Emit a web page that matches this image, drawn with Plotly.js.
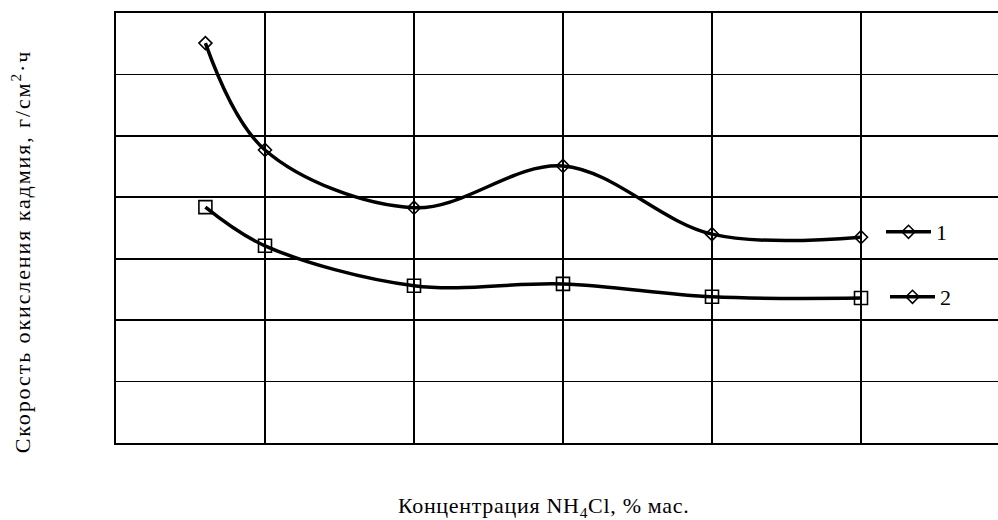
<!DOCTYPE html>
<html>
<head>
<meta charset="utf-8">
<script src="https://cdn.plot.ly/plotly-3.0.1.min.js"></script>
<style>
html, body { margin: 0; padding: 0; overflow: hidden; background: #fff; }
#chart { width: 1030px; height: 520px; }
</style>
</head>
<body>
<div id="chart"></div>
<script>
// Data (grid units)
var concentration = [0.6, 1, 2, 3, 4, 5];
var series1 = [6.51, 4.77, 3.83, 4.51, 3.40, 3.35];
var series2 = [3.84, 3.21, 2.56, 2.59, 2.38, 2.36];
var legendNames = ['1', '2'];
var xTitle = 'Концентрация NH<sub>4</sub>Cl, % мас.';
var yTitle = 'Скорость окисления кадмия, г/см<sup>2</sup>·ч';

var FONT = '"Liberation Serif", "Times New Roman", serif';

var traces = [
  {
    x: concentration, y: series1, type: 'scatter', mode: 'lines+markers',
    line: {color: '#000', width: 3.5, shape: 'spline', smoothing: 1},
    marker: {symbol: 'diamond-open', size: 10, color: '#000', line: {width: 1.6, color: '#000'}},
    showlegend: false, hoverinfo: 'skip'
  },
  {
    x: concentration, y: series2, type: 'scatter', mode: 'lines+markers',
    line: {color: '#000', width: 3.5, shape: 'spline', smoothing: 1},
    marker: {symbol: 'square-open', size: 13, color: '#000', line: {width: 1.6, color: '#000'}},
    showlegend: false, hoverinfo: 'skip'
  },
  {
    x: [null], y: [null], type: 'scatter', mode: 'lines+markers', name: legendNames[0],
    line: {color: '#000', width: 3.5},
    marker: {symbol: 'diamond-open', size: 10, color: '#000', line: {width: 1.6, color: '#000'}},
    legend: 'legend', showlegend: true
  },
  {
    x: [null], y: [null], type: 'scatter', mode: 'lines+markers', name: legendNames[1],
    line: {color: '#000', width: 3.5},
    marker: {symbol: 'diamond-open', size: 10, color: '#000', line: {width: 1.6, color: '#000'}},
    legend: 'legend2', showlegend: true
  }
];

var plotW = 904; // plot area width in px (116..1020)
var plotH = 430;
function px2x(px) { return (px - 116) / plotW; }
function py2y(py) { return (443 - py) / plotH; }

var layout = {
  width: 1030, height: 520,
  margin: {l: 116, r: 10, t: 13, b: 77},
  paper_bgcolor: '#fff', plot_bgcolor: '#fff',
  font: {family: FONT, color: '#000', size: 22},
  xaxis: {
    range: [0, plotW / 149], showticklabels: false, ticks: '',
    tick0: 0, dtick: 1, showgrid: true, gridcolor: '#000', gridwidth: 1.7,
    zeroline: false, showline: true, linecolor: '#000', linewidth: 1.9, mirror: true
  },
  yaxis: {
    range: [0, 7], showticklabels: false, ticks: '',
    tick0: 0, dtick: 1, showgrid: true, gridcolor: '#000', gridwidth: 1.7,
    zeroline: false, showline: true, linecolor: '#000', linewidth: 1.9, mirror: true
  },
  legend: {
    x: px2x(881), y: py2y(232), xanchor: 'left', yanchor: 'middle',
    bgcolor: 'rgba(0,0,0,0)', borderwidth: 0, itemwidth: 45,
    font: {family: FONT, size: 22, color: '#000'}
  },
  legend2: {
    x: px2x(885), y: py2y(297), xanchor: 'left', yanchor: 'middle',
    bgcolor: 'rgba(0,0,0,0)', borderwidth: 0, itemwidth: 45,
    font: {family: FONT, size: 22, color: '#000'}
  },
  annotations: [
    {
      text: xTitle, xref: 'paper', yref: 'paper',
      x: px2x(543), y: py2y(507), xanchor: 'center', yanchor: 'middle',
      showarrow: false, font: {family: FONT, size: 22, color: '#000'}
    },
    {
      text: yTitle, xref: 'paper', yref: 'paper', textangle: -90,
      x: px2x(21), y: py2y(252), xanchor: 'center', yanchor: 'middle',
      showarrow: false, font: {family: FONT, size: 22, color: '#000'}
    }
  ]
};

Plotly.newPlot('chart', traces, layout, {displayModeBar: false, staticPlot: true}).then(function () {
  var t = document.querySelectorAll('.annotation-text');
  if (t[0]) t[0].style.letterSpacing = '0.7px';
  if (t[1]) t[1].style.letterSpacing = '1.9px';
});
</script>
</body>
</html>
